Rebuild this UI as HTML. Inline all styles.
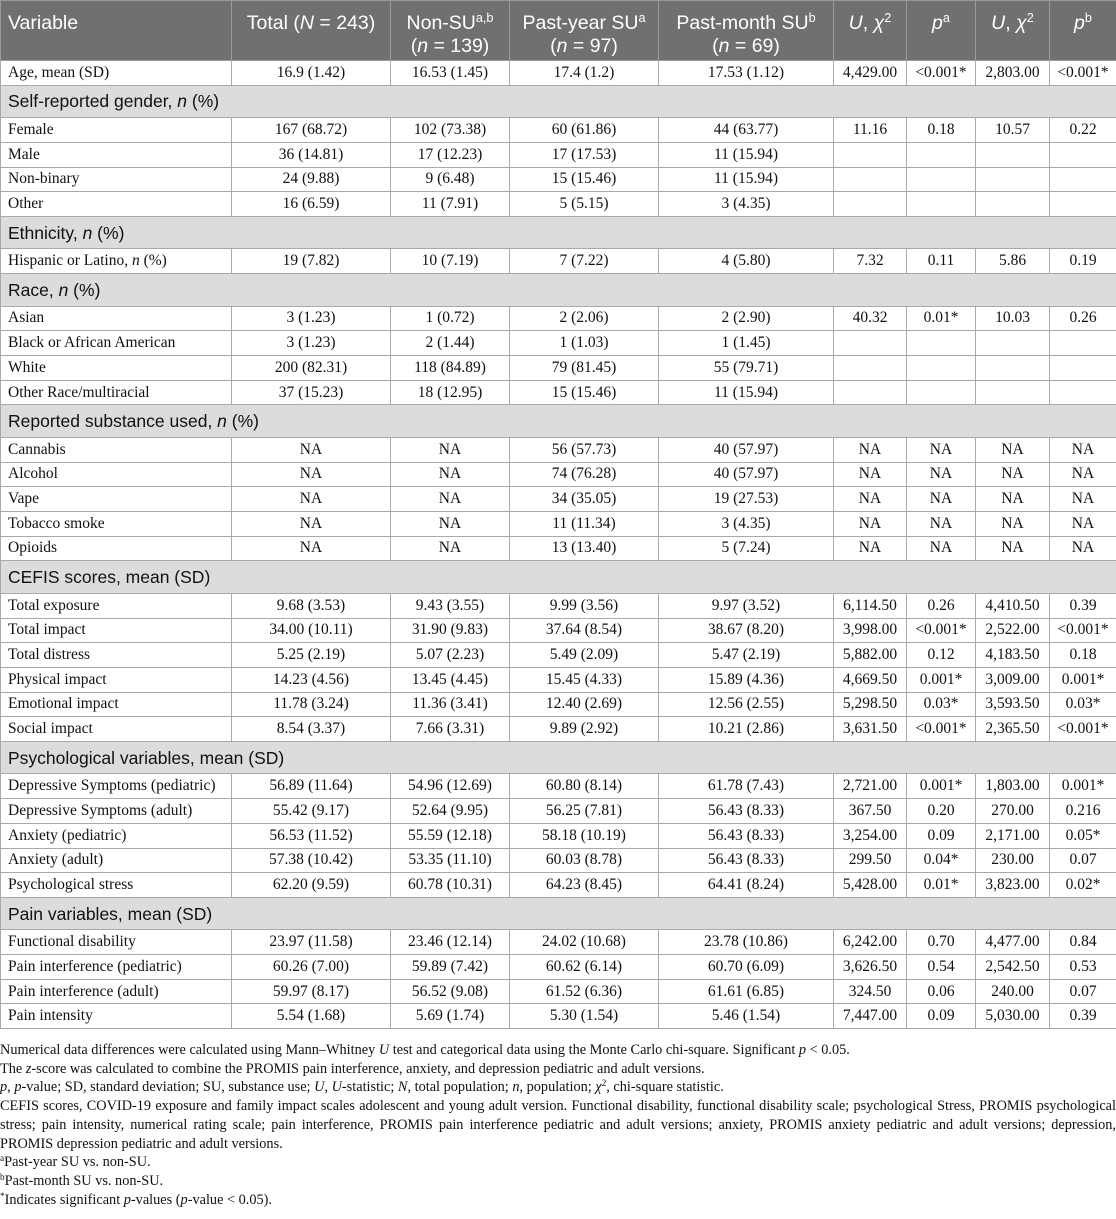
<!DOCTYPE html>
<html><head><meta charset="utf-8"><style>
*{margin:0;padding:0;box-sizing:border-box}
body{width:1116px;height:1219px;background:#fff;overflow:hidden;font-family:"Liberation Serif",serif;color:#111}
table{position:absolute;left:0;top:0;width:1116px;border-collapse:collapse;table-layout:fixed}
td,th{border:1px solid #a9a9a9;font-size:15.5px;text-align:center;white-space:nowrap;overflow:hidden}
td:first-child{text-align:left;padding-left:7px}
tr.d td{height:24.7px;line-height:22px}
tr.h th{background:#707070;color:#fff;font-family:"Liberation Sans",sans-serif;font-weight:normal;font-size:19.5px;height:60px;line-height:23px;vertical-align:top;padding-top:11px;border-color:#9a9a9a}
tr.h th:first-child{text-align:left;padding-left:7px}
tr.s td{background:#dcdcdc;font-family:"Liberation Sans",sans-serif;font-size:17.5px;height:32.5px;line-height:30px}
sup{font-size:0.65em;vertical-align:0.55em;line-height:0}
.n{position:absolute;left:0;top:1041px;width:1116px;font-size:14.3px;line-height:18.7px;color:#111}
.j{text-align:justify}
</style></head><body>
<table>
<colgroup><col style="width:231px"><col style="width:159px"><col style="width:119px"><col style="width:149px"><col style="width:175px"><col style="width:73px"><col style="width:69px"><col style="width:74px"><col style="width:67px"></colgroup>
<tr class="h"><th>Variable</th><th>Total (<i>N</i> = 243)</th><th>Non-SU<sup>a,b</sup><br>(<i>n</i> = 139)</th><th>Past-year SU<sup>a</sup><br>(<i>n</i> = 97)</th><th>Past-month SU<sup>b</sup><br>(<i>n</i> = 69)</th><th><i>U</i>, <i>χ</i><sup>2</sup></th><th><i>p</i><sup>a</sup></th><th><i>U</i>, <i>χ</i><sup>2</sup></th><th><i>p</i><sup>b</sup></th></tr>
<tr class="d"><td>Age, mean (SD)</td><td>16.9 (1.42)</td><td>16.53 (1.45)</td><td>17.4 (1.2)</td><td>17.53 (1.12)</td><td>4,429.00</td><td>&lt;0.001*</td><td>2,803.00</td><td>&lt;0.001*</td></tr>
<tr class="s"><td colspan="9">Self-reported gender, <i>n</i> (%)</td></tr>
<tr class="d"><td>Female</td><td>167 (68.72)</td><td>102 (73.38)</td><td>60 (61.86)</td><td>44 (63.77)</td><td>11.16</td><td>0.18</td><td>10.57</td><td>0.22</td></tr>
<tr class="d"><td>Male</td><td>36 (14.81)</td><td>17 (12.23)</td><td>17 (17.53)</td><td>11 (15.94)</td><td></td><td></td><td></td><td></td></tr>
<tr class="d"><td>Non-binary</td><td>24 (9.88)</td><td>9 (6.48)</td><td>15 (15.46)</td><td>11 (15.94)</td><td></td><td></td><td></td><td></td></tr>
<tr class="d"><td>Other</td><td>16 (6.59)</td><td>11 (7.91)</td><td>5 (5.15)</td><td>3 (4.35)</td><td></td><td></td><td></td><td></td></tr>
<tr class="s"><td colspan="9">Ethnicity, <i>n</i> (%)</td></tr>
<tr class="d"><td>Hispanic or Latino, <i>n</i> (%)</td><td>19 (7.82)</td><td>10 (7.19)</td><td>7 (7.22)</td><td>4 (5.80)</td><td>7.32</td><td>0.11</td><td>5.86</td><td>0.19</td></tr>
<tr class="s"><td colspan="9">Race, <i>n</i> (%)</td></tr>
<tr class="d"><td>Asian</td><td>3 (1.23)</td><td>1 (0.72)</td><td>2 (2.06)</td><td>2 (2.90)</td><td>40.32</td><td>0.01*</td><td>10.03</td><td>0.26</td></tr>
<tr class="d"><td>Black or African American</td><td>3 (1.23)</td><td>2 (1.44)</td><td>1 (1.03)</td><td>1 (1.45)</td><td></td><td></td><td></td><td></td></tr>
<tr class="d"><td>White</td><td>200 (82.31)</td><td>118 (84.89)</td><td>79 (81.45)</td><td>55 (79.71)</td><td></td><td></td><td></td><td></td></tr>
<tr class="d"><td>Other Race/multiracial</td><td>37 (15.23)</td><td>18 (12.95)</td><td>15 (15.46)</td><td>11 (15.94)</td><td></td><td></td><td></td><td></td></tr>
<tr class="s"><td colspan="9">Reported substance used, <i>n</i> (%)</td></tr>
<tr class="d"><td>Cannabis</td><td>NA</td><td>NA</td><td>56 (57.73)</td><td>40 (57.97)</td><td>NA</td><td>NA</td><td>NA</td><td>NA</td></tr>
<tr class="d"><td>Alcohol</td><td>NA</td><td>NA</td><td>74 (76.28)</td><td>40 (57.97)</td><td>NA</td><td>NA</td><td>NA</td><td>NA</td></tr>
<tr class="d"><td>Vape</td><td>NA</td><td>NA</td><td>34 (35.05)</td><td>19 (27.53)</td><td>NA</td><td>NA</td><td>NA</td><td>NA</td></tr>
<tr class="d"><td>Tobacco smoke</td><td>NA</td><td>NA</td><td>11 (11.34)</td><td>3 (4.35)</td><td>NA</td><td>NA</td><td>NA</td><td>NA</td></tr>
<tr class="d"><td>Opioids</td><td>NA</td><td>NA</td><td>13 (13.40)</td><td>5 (7.24)</td><td>NA</td><td>NA</td><td>NA</td><td>NA</td></tr>
<tr class="s"><td colspan="9">CEFIS scores, mean (SD)</td></tr>
<tr class="d"><td>Total exposure</td><td>9.68 (3.53)</td><td>9.43 (3.55)</td><td>9.99 (3.56)</td><td>9.97 (3.52)</td><td>6,114.50</td><td>0.26</td><td>4,410.50</td><td>0.39</td></tr>
<tr class="d"><td>Total impact</td><td>34.00 (10.11)</td><td>31.90 (9.83)</td><td>37.64 (8.54)</td><td>38.67 (8.20)</td><td>3,998.00</td><td>&lt;0.001*</td><td>2,522.00</td><td>&lt;0.001*</td></tr>
<tr class="d"><td>Total distress</td><td>5.25 (2.19)</td><td>5.07 (2.23)</td><td>5.49 (2.09)</td><td>5.47 (2.19)</td><td>5,882.00</td><td>0.12</td><td>4,183.50</td><td>0.18</td></tr>
<tr class="d"><td>Physical impact</td><td>14.23 (4.56)</td><td>13.45 (4.45)</td><td>15.45 (4.33)</td><td>15.89 (4.36)</td><td>4,669.50</td><td>0.001*</td><td>3,009.00</td><td>0.001*</td></tr>
<tr class="d"><td>Emotional impact</td><td>11.78 (3.24)</td><td>11.36 (3.41)</td><td>12.40 (2.69)</td><td>12.56 (2.55)</td><td>5,298.50</td><td>0.03*</td><td>3,593.50</td><td>0.03*</td></tr>
<tr class="d"><td>Social impact</td><td>8.54 (3.37)</td><td>7.66 (3.31)</td><td>9.89 (2.92)</td><td>10.21 (2.86)</td><td>3,631.50</td><td>&lt;0.001*</td><td>2,365.50</td><td>&lt;0.001*</td></tr>
<tr class="s"><td colspan="9">Psychological variables, mean (SD)</td></tr>
<tr class="d"><td>Depressive Symptoms (pediatric)</td><td>56.89 (11.64)</td><td>54.96 (12.69)</td><td>60.80 (8.14)</td><td>61.78 (7.43)</td><td>2,721.00</td><td>0.001*</td><td>1,803.00</td><td>0.001*</td></tr>
<tr class="d"><td>Depressive Symptoms (adult)</td><td>55.42 (9.17)</td><td>52.64 (9.95)</td><td>56.25 (7.81)</td><td>56.43 (8.33)</td><td>367.50</td><td>0.20</td><td>270.00</td><td>0.216</td></tr>
<tr class="d"><td>Anxiety (pediatric)</td><td>56.53 (11.52)</td><td>55.59 (12.18)</td><td>58.18 (10.19)</td><td>56.43 (8.33)</td><td>3,254.00</td><td>0.09</td><td>2,171.00</td><td>0.05*</td></tr>
<tr class="d"><td>Anxiety (adult)</td><td>57.38 (10.42)</td><td>53.35 (11.10)</td><td>60.03 (8.78)</td><td>56.43 (8.33)</td><td>299.50</td><td>0.04*</td><td>230.00</td><td>0.07</td></tr>
<tr class="d"><td>Psychological stress</td><td>62.20 (9.59)</td><td>60.78 (10.31)</td><td>64.23 (8.45)</td><td>64.41 (8.24)</td><td>5,428.00</td><td>0.01*</td><td>3,823.00</td><td>0.02*</td></tr>
<tr class="s"><td colspan="9">Pain variables, mean (SD)</td></tr>
<tr class="d"><td>Functional disability</td><td>23.97 (11.58)</td><td>23.46 (12.14)</td><td>24.02 (10.68)</td><td>23.78 (10.86)</td><td>6,242.00</td><td>0.70</td><td>4,477.00</td><td>0.84</td></tr>
<tr class="d"><td>Pain interference (pediatric)</td><td>60.26 (7.00)</td><td>59.89 (7.42)</td><td>60.62 (6.14)</td><td>60.70 (6.09)</td><td>3,626.50</td><td>0.54</td><td>2,542.50</td><td>0.53</td></tr>
<tr class="d"><td>Pain interference (adult)</td><td>59.97 (8.17)</td><td>56.52 (9.08)</td><td>61.52 (6.36)</td><td>61.61 (6.85)</td><td>324.50</td><td>0.06</td><td>240.00</td><td>0.07</td></tr>
<tr class="d"><td>Pain intensity</td><td>5.54 (1.68)</td><td>5.69 (1.74)</td><td>5.30 (1.54)</td><td>5.46 (1.54)</td><td>7,447.00</td><td>0.09</td><td>5,030.00</td><td>0.39</td></tr>
</table>
<div class="n">
<div>Numerical data differences were calculated using Mann–Whitney <i>U</i> test and categorical data using the Monte Carlo chi-square. Significant <i>p</i> &lt; 0.05.</div>
<div>The <i>z</i>-score was calculated to combine the PROMIS pain interference, anxiety, and depression pediatric and adult versions.</div>
<div><i>p</i>, <i>p</i>-value; SD, standard deviation; SU, substance use; <i>U</i>, <i>U</i>-statistic; <i>N</i>, total population; <i>n</i>, population; <i>χ</i><sup>2</sup>, chi-square statistic.</div>
<div class="j">CEFIS scores, COVID-19 exposure and family impact scales adolescent and young adult version. Functional disability, functional disability scale; psychological Stress, PROMIS psychological stress; pain intensity, numerical rating scale; pain interference, PROMIS pain interference pediatric and adult versions; anxiety, PROMIS anxiety pediatric and adult versions; depression, PROMIS depression pediatric and adult versions.</div>
<div><sup>a</sup>Past-year SU vs. non-SU.</div>
<div><sup>b</sup>Past-month SU vs. non-SU.</div>
<div><sup>*</sup>Indicates significant <i>p</i>-values (<i>p</i>-value &lt; 0.05).</div>
</div>
</body></html>
